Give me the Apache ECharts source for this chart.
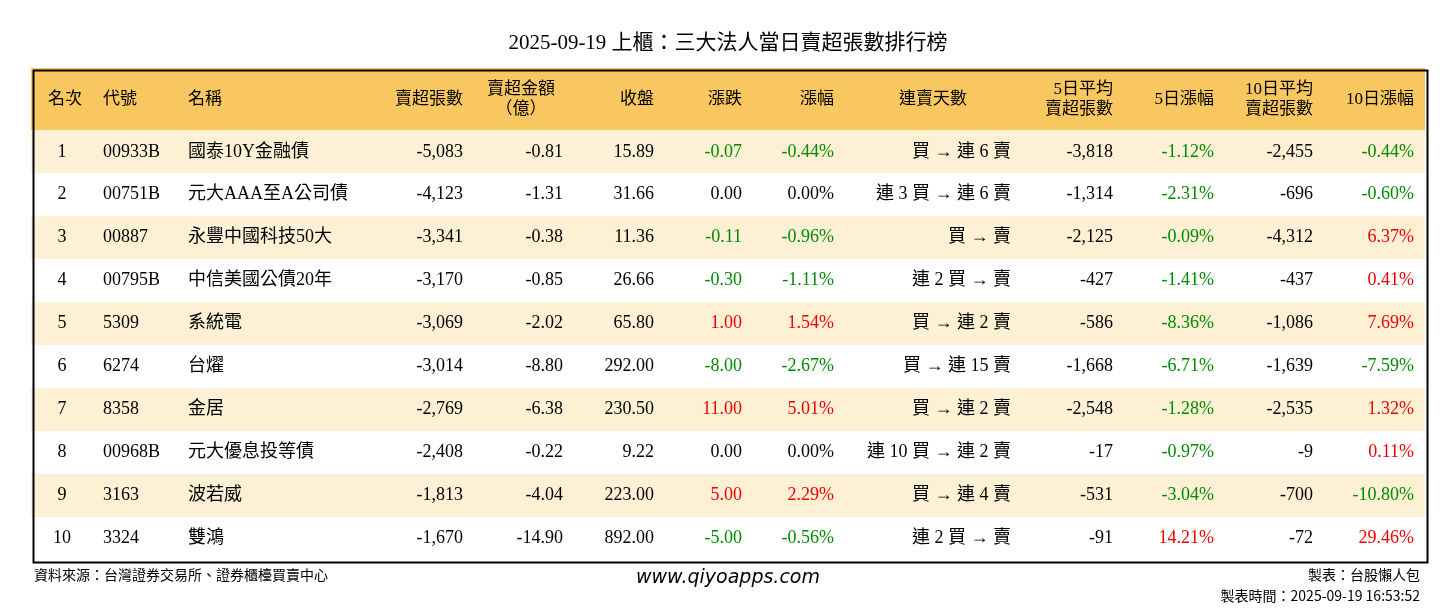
<!DOCTYPE html>
<html>
<head>
<meta charset="utf-8">
<script src="https://cdn.jsdelivr.net/npm/echarts@6/dist/echarts.min.js"></script>
<style>html,body{margin:0;padding:0;background:#fff}#main{width:1456px;height:612px}</style>
</head>
<body>
<div id="main"></div>
<script>
var ranks = [1, 2, 3, 4, 5, 6, 7, 8, 9, 10];
var codes = ['00933B', '00751B', '00887', '00795B', '5309', '6274', '8358', '00968B', '3163', '3324'];
var names = ['國泰10Y金融債', '元大AAA至A公司債', '永豐中國科技50大', '中信美國公債20年', '系統電', '台燿', '金居', '元大優息投等債', '波若威', '雙鴻'];
var sellLots = [-5083, -4123, -3341, -3170, -3069, -3014, -2769, -2408, -1813, -1670];
var amounts = [-0.81, -1.31, -0.38, -0.85, -2.02, -8.80, -6.38, -0.22, -4.04, -14.90];
var closes = [15.89, 31.66, 11.36, 26.66, 65.80, 292.00, 230.50, 9.22, 223.00, 892.00];
var changes = [-0.07, 0.00, -0.11, -0.30, 1.00, -8.00, 11.00, 0.00, 5.00, -5.00];
var pcts = [-0.44, 0.00, -0.96, -1.11, 1.54, -2.67, 5.01, 0.00, 2.29, -0.56];
var streaks = ['買 → 連 6 賣', '連 3 買 → 連 6 賣', '買 → 賣', '連 2 買 → 賣', '買 → 連 2 賣', '買 → 連 15 賣', '買 → 連 2 賣', '連 10 買 → 連 2 賣', '買 → 連 4 賣', '連 2 買 → 賣'];
var avg5 = [-3818, -1314, -2125, -427, -586, -1668, -2548, -17, -531, -91];
var pct5 = [-1.12, -2.31, -0.09, -1.41, -8.36, -6.71, -1.28, -0.97, -3.04, 14.21];
var avg10 = [-2455, -696, -4312, -437, -1086, -1639, -2535, -9, -700, -72];
var pct10 = [-0.44, -0.60, 6.37, 0.41, 7.69, -7.59, 1.32, 0.11, -10.80, 29.46];
var headers = ['名次', '代號', '名稱', '賣超張數', '賣超金額\n（億）', '收盤', '漲跌', '漲幅', '連賣天數', '5日平均\n賣超張數', '5日漲幅', '10日平均\n賣超張數', '10日漲幅'];

// column layout: x (in axis units = px from table left), align, header align/x
var cols = [
  {x: 31, a: 'center', hx: 34, ha: 'center'},
  {x: 72, a: 'left', hx: 72, ha: 'left'},
  {x: 157, a: 'left', hx: 157, ha: 'left'},
  {x: 432, a: 'right', hx: 432, ha: 'right'},
  {x: 532, a: 'right', hx: 490, ha: 'center'},
  {x: 623, a: 'right', hx: 623, ha: 'right'},
  {x: 711, a: 'right', hx: 711, ha: 'right'},
  {x: 803, a: 'right', hx: 803, ha: 'right'},
  {x: 980, a: 'right', hx: 902, ha: 'center'},
  {x: 1082, a: 'right', hx: 1082, ha: 'right'},
  {x: 1183, a: 'right', hx: 1183, ha: 'right'},
  {x: 1282, a: 'right', hx: 1282, ha: 'right'},
  {x: 1383, a: 'right', hx: 1383, ha: 'right'}
];

var GREEN = '#008a00', RED = '#ee0000';
function fmtInt(v) { return v.toLocaleString('en-US'); }
function signColor(v) { return v > 0 ? RED : (v < 0 ? GREEN : '#000'); }

function rowCells(i) {
  return [
    [String(ranks[i]), '#000'],
    [codes[i], '#000'],
    [names[i], '#000'],
    [fmtInt(sellLots[i]), '#000'],
    [amounts[i].toFixed(2), '#000'],
    [closes[i].toFixed(2), '#000'],
    [changes[i].toFixed(2), signColor(changes[i])],
    [pcts[i].toFixed(2) + '%', signColor(pcts[i])],
    [streaks[i], '#000'],
    [fmtInt(avg5[i]), '#000'],
    [pct5[i].toFixed(2) + '%', signColor(pct5[i])],
    [fmtInt(avg10[i]), '#000'],
    [pct10[i].toFixed(2) + '%', signColor(pct10[i])]
  ];
}

var FONT = '"Liberation Serif", "Noto Sans CJK TC", serif';
var rows = [-1].concat(ranks.map(function (r, i) { return i; }));

var myChart = echarts.init(document.getElementById('main'));
myChart.setOption({
  animation: false,
  title: {
    text: '2025-09-19 上櫃：三大法人當日賣超張數排行榜',
    left: 'center', top: 28,
    textStyle: {fontFamily: FONT, fontSize: 21, fontWeight: 'normal', color: '#000'}
  },
  grid: {left: 31, right: 31, top: 68, bottom: 52},
  xAxis: {type: 'value', min: 0, max: 1394, show: false},
  yAxis: {type: 'value', min: -1.45, max: 10, inverse: true, show: false},
  series: [{
    type: 'custom',
    data: rows,
    renderItem: function (params, api) {
      var i = api.value(0);
      var children = [];
      var top = api.coord([0, i < 0 ? -1.45 : i]);
      var bot = api.coord([1394, i < 0 ? 0 : i + 1]);
      var fill = i < 0 ? '#f9c760' : (i % 2 === 0 ? '#fdf0d4' : '#ffffff');
      children.push({type: 'rect', shape: {x: top[0], y: top[1], width: bot[0] - top[0], height: bot[1] - top[1]}, style: {fill: fill}});
      var cy = (top[1] + bot[1]) / 2;
      if (i < 0) {
        headers.forEach(function (h, c) {
          var p = api.coord([cols[c].hx, 0]);
          children.push({type: 'text', x: p[0], y: cy, style: {text: h, fill: '#000', align: cols[c].ha, verticalAlign: 'middle', font: '17px ' + FONT, lineHeight: 20}});
        });
      } else {
        rowCells(i).forEach(function (cell, c) {
          var p = api.coord([cols[c].x, 0]);
          children.push({type: 'text', x: p[0], y: cy, style: {text: cell[0], fill: cell[1], align: cols[c].a, verticalAlign: 'middle', font: '18px ' + FONT}});
        });
      }
      return {type: 'group', children: children};
    }
  }],
  graphic: [
    {type: 'rect', left: 31, top: 68, shape: {width: 1394, height: 492}, style: {fill: 'none', stroke: '#000', lineWidth: 2}, z: 100},
    {type: 'text', left: 34, top: 568, style: {text: '資料來源：台灣證券交易所、證券櫃檯買賣中心', font: '14px "Noto Sans CJK TC"', fill: '#000'}},
    {type: 'text', left: 'center', top: 569, style: {text: 'www.qiyoapps.com', font: 'italic 19px "DejaVu Sans"', fill: '#000'}},
    {type: 'text', right: 36, top: 568, style: {text: '製表：台股懶人包', font: '14px "Noto Sans CJK TC"', fill: '#000', align: 'right'}},
    {type: 'text', right: 36, top: 589, style: {text: '製表時間：2025-09-19 16:53:52', font: '14px "Noto Sans CJK TC"', fill: '#000', align: 'right'}}
  ]
});
window.addEventListener('resize', function () { myChart.resize(); });
</script>
</body>
</html>
